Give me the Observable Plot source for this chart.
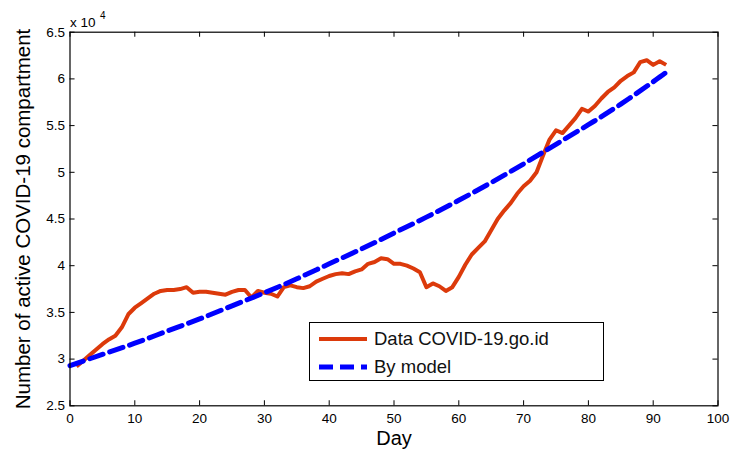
<!DOCTYPE html>
<html>
<head>
<meta charset="utf-8">
<script src="https://cdn.jsdelivr.net/npm/d3@7"></script>
<script src="https://cdn.jsdelivr.net/npm/@observablehq/plot@0.6"></script>
<style>
  html, body { margin: 0; padding: 0; background: #fff; }
  #wrap { position: relative; width: 732px; height: 454px; font-family: "Liberation Sans", Arial, sans-serif; }
  #legend { position: absolute; left: 309px; top: 322px; width: 293px; height: 57px; border: 1.5px solid #000; background: #fff; }
  .entry { position: absolute; left: 8px; height: 24px; display: flex; align-items: center; font-size: 18.5px; color: #111; }
  .entry svg { margin-right: 6px; }
</style>
</head>
<body>
<div id="wrap"></div>
<script>
// ---- data (values in units of 10^4) ----
const dataDays = d3.range(1, 93);
const dataValues = [
  2.92, 2.98, 3.04, 3.10, 3.16, 3.21, 3.25, 3.34, 3.48, 3.55,
  3.60, 3.65, 3.70, 3.73, 3.74, 3.74, 3.75, 3.77, 3.71, 3.72,
  3.72, 3.71, 3.70, 3.69, 3.72, 3.74, 3.74, 3.66, 3.73, 3.71,
  3.70, 3.67, 3.77, 3.79, 3.77, 3.76, 3.78, 3.83, 3.86, 3.89,
  3.91, 3.92, 3.91, 3.94, 3.96, 4.02, 4.04, 4.08, 4.07, 4.02,
  4.02, 4.00, 3.97, 3.93, 3.77, 3.81, 3.78, 3.73, 3.77, 3.88,
  4.01, 4.12, 4.19, 4.26, 4.38, 4.50, 4.59, 4.67, 4.77, 4.85,
  4.91, 5.00, 5.18, 5.35, 5.45, 5.42, 5.50, 5.58, 5.68, 5.65,
  5.71, 5.79, 5.86, 5.91, 5.98, 6.03, 6.07, 6.18, 6.20, 6.15,
  6.19, 6.15
];
const modelDays   = [0, 5, 10, 15, 20, 25, 30, 35, 40, 45, 50, 55, 60, 65, 70, 75, 80, 85, 90, 92];
const modelValues = [2.93, 3.05, 3.17, 3.30, 3.43, 3.57, 3.71, 3.86, 4.02, 4.18, 4.35, 4.52, 4.70, 4.89, 5.09, 5.30, 5.51, 5.73, 5.97, 6.07];

const xTicks = [0, 10, 20, 30, 40, 50, 60, 70, 80, 90, 100];
const yTicks = [2.5, 3, 3.5, 4, 4.5, 5, 5.5, 6, 6.5];
const xLabel = "Day";
const yLabel = "Number of active COVID-19 compartment";
const exponentBase = "x 10";
const exponentPower = "4";
const legendLabels = ["Data COVID-19.go.id", "By model"];
const colors = { data: "#dc3a0b", model: "#0000ff" };

const dataTable = dataDays.map((d, i) => ({ day: d, value: dataValues[i] }));
const modelTable = modelDays.map((d, i) => ({ day: d, value: modelValues[i] }));

const xDom = [0, 100], yDom = [2.5, 6.5];
const tickLenY = 0.054;  // ~5px in y units
const tickLenX = 0.78;   // ~5px in x units

const chart = Plot.plot({
  width: 732,
  height: 454,
  marginLeft: 69.5,
  marginRight: 14.5,
  marginTop: 31.7,
  marginBottom: 48.7,
  style: { fontFamily: "Liberation Sans, Arial, sans-serif", color: "#000", background: "#fff" },
  x: { domain: xDom },
  y: { domain: yDom },
  marks: [
    Plot.ruleX(xTicks, { x: d => d, y1: yDom[0], y2: yDom[0] + tickLenY, stroke: "#000", strokeWidth: 1 }),
    Plot.ruleX(xTicks, { x: d => d, y1: yDom[1], y2: yDom[1] - tickLenY, stroke: "#000", strokeWidth: 1 }),
    Plot.ruleY(yTicks, { y: d => d, x1: xDom[0], x2: xDom[0] + tickLenX, stroke: "#000", strokeWidth: 1 }),
    Plot.ruleY(yTicks, { y: d => d, x1: xDom[1], x2: xDom[1] - tickLenX, stroke: "#000", strokeWidth: 1 }),
    Plot.axisX({ ticks: xTicks, tickSize: 0, tickPadding: 8, fontSize: 13.5, label: null, tickFormat: d => String(d) }),
    Plot.axisY({ ticks: yTicks, tickSize: 0, tickPadding: 5, fontSize: 13.5, label: null, tickFormat: d => String(d) }),
    Plot.line(dataTable, { x: "day", y: "value", stroke: colors.data, strokeWidth: 4, strokeLinejoin: "round", strokeLinecap: "butt" }),
    Plot.line(modelTable, { x: "day", y: "value", stroke: colors.model, strokeWidth: 5, strokeDasharray: "14,7", curve: "natural" }),
    Plot.frame({ stroke: "#000", strokeWidth: 1.2 }),
    Plot.text([xLabel], { frameAnchor: "bottom", textAnchor: "middle", dy: 39, fontSize: 20, fill: "#000" }),
    Plot.text([yLabel], { frameAnchor: "left", textAnchor: "middle", dx: -47, rotate: -90, fontSize: 20.5, fill: "#000" }),
    Plot.text([exponentBase], { frameAnchor: "top-left", textAnchor: "start", lineAnchor: "bottom", dx: 0, dy: -5, fontSize: 13.5, fill: "#000" }),
    Plot.text([exponentPower], { frameAnchor: "top-left", textAnchor: "start", lineAnchor: "bottom", dx: 30, dy: -13, fontSize: 10, fill: "#000" })
  ]
});

const wrap = document.getElementById("wrap");
wrap.appendChild(chart);

const legend = document.createElement("div");
legend.id = "legend";
const entries = [
  { label: legendLabels[0], color: colors.data, width: 4, dash: null },
  { label: legendLabels[1], color: colors.model, width: 5, dash: "14,7" }
];
entries.forEach((e, i) => {
  const row = document.createElement("div");
  row.className = "entry";
  row.style.top = (3.5 + i * 28) + "px";
  const ns = "http://www.w3.org/2000/svg";
  const s = document.createElementNS(ns, "svg");
  s.setAttribute("width", 50); s.setAttribute("height", 10);
  const ln = document.createElementNS(ns, "line");
  ln.setAttribute("x1", 1); ln.setAttribute("x2", 49);
  ln.setAttribute("y1", 5); ln.setAttribute("y2", 5);
  ln.setAttribute("stroke", e.color);
  ln.setAttribute("stroke-width", e.width);
  if (e.dash) ln.setAttribute("stroke-dasharray", e.dash);
  s.appendChild(ln);
  row.appendChild(s);
  const t = document.createElement("span");
  t.textContent = e.label;
  row.appendChild(t);
  legend.appendChild(row);
});
wrap.appendChild(legend);
</script>
</body>
</html>
